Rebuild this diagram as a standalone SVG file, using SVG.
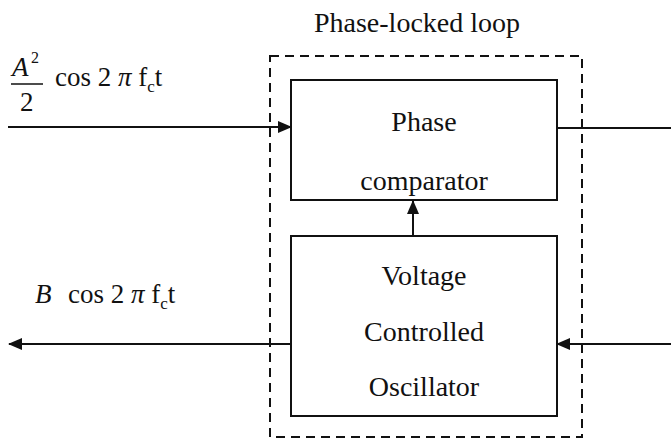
<svg xmlns="http://www.w3.org/2000/svg" width="671" height="441" viewBox="0 0 671 441">
<style>
text{font-family:"Liberation Serif","Times New Roman",serif;fill:#111}
.box{fill:none;stroke:#111;stroke-width:2}
.ln{fill:none;stroke:#111;stroke-width:2}
.t{font-size:28px;text-anchor:middle}
.lab{font-size:27px}
</style>
<defs>
<marker id="ah" markerWidth="14" markerHeight="12" refX="13" refY="6" orient="auto" markerUnits="userSpaceOnUse">
<path d="M0,0 L14,6 L0,12 Z" fill="#111"/>
</marker>
</defs>
<rect x="0" y="0" width="671" height="441" fill="#fff"/>
<g id="pll">
<rect x="270" y="56" width="312" height="381" fill="none" stroke="#111" stroke-width="2" stroke-dasharray="9,6"/>
<text class="t" x="417" y="32" style="font-size:28px">Phase-locked loop</text>
</g>
<g id="phase-comparator">
<rect class="box" x="291" y="80" width="266" height="120"/>
<text class="t" x="424" y="131">Phase</text>
<text class="t" x="424" y="190">comparator</text>
</g>
<g id="vco">
<rect class="box" x="291" y="236" width="266" height="180"/>
<text class="t" x="424" y="285">Voltage</text>
<text class="t" x="424" y="341">Controlled</text>
<text class="t" x="424" y="396">Oscillator</text>
</g>
<g id="connectors">
<line class="ln" x1="8" y1="127" x2="291" y2="127" marker-end="url(#ah)"/>
<line class="ln" x1="557" y1="128" x2="671" y2="128"/>
<line class="ln" x1="413" y1="236" x2="413" y2="201" marker-end="url(#ah)"/>
<line class="ln" x1="671" y1="344" x2="557" y2="344" marker-end="url(#ah)"/>
<line class="ln" x1="291" y1="344" x2="9" y2="344" marker-end="url(#ah)"/>
</g>
<g id="labels">
<text class="lab" x="12" y="76" style="font-style:italic">A</text>
<text x="31" y="63" style="font-size:16px">2</text>
<line x1="11" y1="84" x2="43" y2="84" stroke="#111" stroke-width="1.5"/>
<text class="lab" x="20" y="111">2</text>
<text class="lab" x="55" y="86">cos 2 <tspan style="font-style:italic">π</tspan> f<tspan dy="6" style="font-size:17px">c</tspan><tspan dy="-6">t</tspan></text>
<text class="lab" x="35" y="303" style="font-style:italic">B</text>
<text class="lab" x="68" y="303">cos 2 <tspan style="font-style:italic">π</tspan> f<tspan dy="6" style="font-size:17px">c</tspan><tspan dy="-6">t</tspan></text>
</g>
</svg>
